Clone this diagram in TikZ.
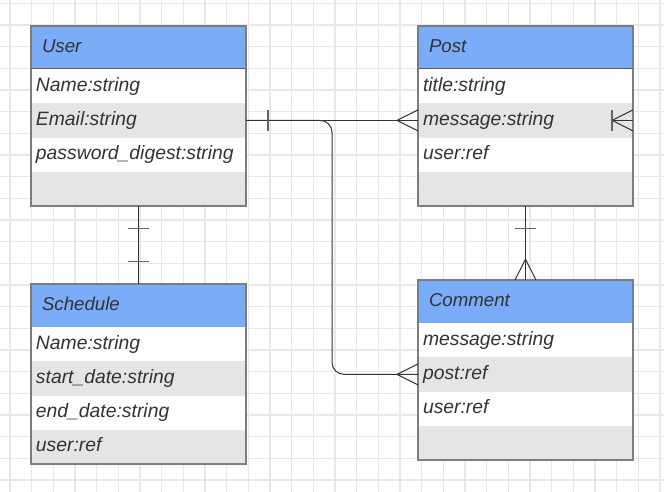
\documentclass[tikz,border=0pt]{standalone}
\usepackage{fontspec}
\setmainfont{Liberation Sans}
\usetikzlibrary{positioning}
\definecolor{headblue}{RGB}{122,172,247}
\definecolor{rowgrey}{RGB}{229,229,229}
\definecolor{gridgrey}{RGB}{232,232,232}
\definecolor{edgegrey}{RGB}{125,125,125}
\definecolor{bargrey}{RGB}{100,100,100}
\definecolor{textgrey}{RGB}{51,51,51}

\begin{document}
\begin{tikzpicture}[x=0.75pt,y=-0.75pt,line width=0.75pt]
\tikzstyle{head}=[draw=textgrey!80,fill=headblue,anchor=north west,minimum width=161.25pt,minimum height=32.25pt,inner xsep=8.25pt,inner ysep=0pt,outer sep=0pt,text width=144.75pt,align=left,font=\fontsize{14}{16}\selectfont\itshape,text=textgrey,text height=10.4pt,text depth=3.6pt];
\tikzstyle{row}=[fill=white,minimum width=161.25pt,minimum height=25.69pt,inner xsep=3.75pt,inner ysep=0pt,outer sep=0pt,text width=153.75pt,align=left,font=\fontsize{14.5}{17}\selectfont\itshape,text=textgrey,text height=10.4pt,text depth=3pt];
\tikzstyle{alt}=[row,fill=rowgrey];
\tikzstyle{box}=[draw=edgegrey,line width=1.1pt];
\tikzstyle{conn}=[draw=textgrey,line width=0.75pt];
\tikzstyle{bar}=[draw=bargrey,line width=1.1pt];
\tikzstyle{gridline}=[draw=gridgrey,line width=1pt];

% background and grid
\fill[white] (0,0) rectangle (664,492);
\useasboundingbox (0,0) rectangle (664,492);
\foreach \i in {0,...,30}
  \draw[gridline] (10+21.667*\i,0) -- (10+21.667*\i,492);
\foreach \j in {0,...,22}
  \draw[gridline] (0,3.3+21.667*\j) -- (664,3.3+21.667*\j);

% User
\node [head] (user) at (31,26) {User};
\node [row,below=0pt of user] (user1) {Name:string};
\node [alt,below=0pt of user1] (user2) {Email:string};
\node [row,below=0pt of user2] (user3) {password\_digest:string};
\node [alt,below=0pt of user3] (user4) {};
\draw [box] (user.north west) rectangle (user4.south east);

% Post
\node [head] (post) at (418,26) {Post};
\node [row,below=0pt of post] (post1) {title:string};
\node [alt,below=0pt of post1] (post2) {message:string};
\node [row,below=0pt of post2] (post3) {user:ref};
\node [alt,below=0pt of post3] (post4) {};
\draw [box] (post.north west) rectangle (post4.south east);

% Schedule
\node [head] (schedule) at (31,284) {Schedule};
\node [row,below=0pt of schedule] (schedule1) {Name:string};
\node [alt,below=0pt of schedule1] (schedule2) {start\_date:string};
\node [row,below=0pt of schedule2] (schedule3) {end\_date:string};
\node [alt,below=0pt of schedule3] (schedule4) {user:ref};
\draw [box] (schedule.north west) rectangle (schedule4.south east);

% Comment
\node [head] (comment) at (418,280) {Comment};
\node [row,below=0pt of comment] (comment1) {message:string};
\node [alt,below=0pt of comment1] (comment2) {post:ref};
\node [row,below=0pt of comment2] (comment3) {user:ref};
\node [alt,below=0pt of comment3] (comment4) {};
\draw [box] (comment.north west) rectangle (comment4.south east);

% relations
\coordinate (bend) at (332,0);
\draw [conn] (user2.east) -- (post2.west);
\draw [conn,rounded corners=9pt] (user2.east) -- (user2.east -| bend) -- (bend |- comment2.west) -- (comment2.west);
\draw [conn] (user4.south) -- (schedule.north);
\draw [conn] (post4.south) -- (comment.north);

% ends
\draw [bar] ([xshift=16.5pt,yshift=7.9pt]user2.east) -- ([xshift=16.5pt,yshift=-7.9pt]user2.east);
\draw [conn] ([yshift=7.9pt]post2.west) -- ([xshift=-15.75pt]post2.west) -- ([yshift=-7.9pt]post2.west);
\draw [conn] ([yshift=7.9pt]comment2.west) -- ([xshift=-15.75pt]comment2.west) -- ([yshift=-7.9pt]comment2.west);
\draw [bar] ([xshift=-7.9pt,yshift=-17pt]user4.south) -- ([xshift=7.9pt,yshift=-17pt]user4.south);
\draw [bar] ([xshift=-7.9pt,yshift=16.75pt]schedule.north) -- ([xshift=7.9pt,yshift=16.75pt]schedule.north);
\draw [bar] ([xshift=-7.9pt,yshift=-17pt]post4.south) -- ([xshift=7.9pt,yshift=-17pt]post4.south);
\draw [conn] ([xshift=-7.9pt]comment.north) -- ([yshift=15.5pt]comment.north) -- ([xshift=7.9pt]comment.north);
\coordinate (foot) at ([xshift=-15.75pt]post2.east);
\draw [conn] (foot) -- (post2.east);
\draw [conn] ([yshift=7.9pt]post2.east) -- (foot) -- ([yshift=-7.9pt]post2.east);
\draw [bar] ([yshift=7.9pt]foot) -- ([yshift=-7.9pt]foot);
\end{tikzpicture}
\end{document}
